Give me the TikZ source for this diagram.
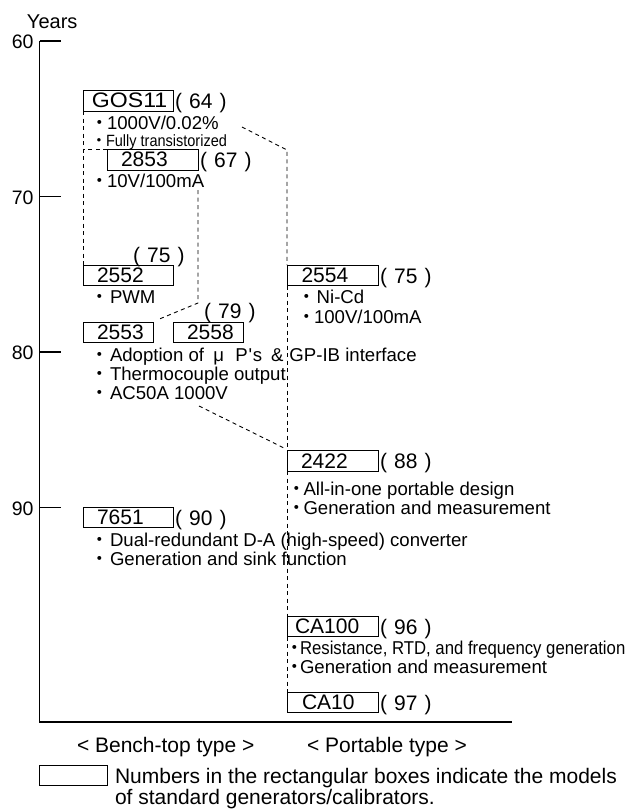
\documentclass[tikz,border=0pt]{standalone}
\usepackage{fontspec}
\setmainfont{Liberation Sans}
\newfontfamily\cjkfont{Noto Sans CJK JP}
\usepackage{graphicx}
\newcommand\bu[1]{\makebox[#1pt][c]{\cjkfont ・}}
\newcommand\yl[1]{(\hspace{0.34em}#1\hspace{0.34em})}
\begin{document}
\begin{tikzpicture}[x=1pt,y=-1pt,
  every node/.style={inner sep=0pt, outer sep=0pt},
  desc/.style={anchor=base west, font=\fontsize{18.6}{20}\selectfont},
  yrs/.style={anchor=base west, font=\fontsize{21}{22}\selectfont},
  axl/.style={anchor=base east, font=\fontsize{19.5}{22}\selectfont},
  mbox/.style={draw, line width=1pt, anchor=north west, minimum height=20.5pt, font=\fontsize{21}{22}\selectfont},
  dsh/.style={line width=0.9pt, dash pattern=on 4pt off 3.5pt},
  axisline/.style={line width=1.1pt},
  legtext/.style={anchor=base west, font=\fontsize{21}{22}\selectfont},
]
\useasboundingbox (0,0) rectangle (630,812);

% axis
\node[anchor=base west, font=\fontsize{20}{22}\selectfont] (years) at (27,28) {Years};
\coordinate (atop) at (39.5,41);
\coordinate (acorner) at (39.5,722);
\coordinate (aright) at (512,722);
\draw[axisline] (atop) -- (acorner) -- (aright);
\foreach \yy/\ll in {41/60,196.5/70,352/80,507.5/90}{
  \coordinate (k\ll) at (39.5,\yy);
  \draw[axisline] (k\ll) -- ++(21.5,0);
  \node[axl] (t\ll) at (33.5,{\yy+7.5}) {\ll};
}

% boxes
\node[mbox] (gos)   at (83,90.5)  {\makebox[90pt][l]{\hspace*{9pt}\scalebox{1.1}[1]{GOS11}}};
\node[mbox] (b2853) at (107,149.5){\makebox[91pt][l]{\hspace*{14pt}2853}};
\node[mbox] (b2552) at (83,265)   {\makebox[90pt][l]{\hspace*{14pt}2552}};
\node[mbox] (b2554) at (287,265)  {\makebox[91pt][l]{\hspace*{14.5pt}2554}};
\node[mbox] (b2553) at (83,322)   {\makebox[70pt][l]{\hspace*{14pt}2553}};
\node[mbox] (b2558) at (173,322)  {\makebox[70pt][l]{\hspace*{14pt}2558}};
\node[mbox] (b2422) at (287,450.5){\makebox[91pt][l]{\hspace*{14pt}2422}};
\node[mbox] (b7651) at (83,507)   {\makebox[90pt][l]{\hspace*{14pt}7651}};
\node[mbox] (ca100) at (287,616)  {\makebox[91pt][l]{\hspace*{8pt}CA100}};
\node[mbox] (ca10)  at (287,692)  {\makebox[91pt][l]{\hspace*{15pt}CA10}};

% years
\node[yrs] (y64) at ([xshift=2pt,yshift=2.5pt]gos.south east) {\yl{64}};
\node[yrs] (y67) at ([xshift=2pt,yshift=2.5pt]b2853.south east) {\yl{67}};
\node[yrs] (y75a) at (133,262) {\yl{75}};
\node[yrs] (y75b) at ([xshift=2pt,yshift=2.5pt]b2554.south east) {\yl{75}};
\node[yrs] (y79) at (204,318) {\yl{79}};
\node[yrs] (y88) at ([xshift=2pt,yshift=2.5pt]b2422.south east) {\yl{88}};
\node[yrs] (y90) at ([xshift=2pt,yshift=2.5pt]b7651.south east) {\yl{90}};
\node[yrs] (y96) at ([xshift=2pt,yshift=2.5pt]ca100.south east) {\yl{96}};
\node[yrs] (y97) at ([xshift=2pt,yshift=2.5pt]ca10.south east) {\yl{97}};

% descriptions
\node[desc] (d1a) at (93,129) {\bu{14}1000V/0.02\%};
\node[desc, font=\fontsize{16.3}{18}\selectfont] (d1b) at (92,146.5) {\bu{14}\scalebox{0.89}[1]{Fully transistorized}};
\node[desc] (d2a) at (93,187) {\bu{14}10V/100mA};
\node[desc] (d3a) at (90,303) {\bu{20}PWM};
\node[desc] (d4a) at (296.7,303) {\bu{20}Ni-Cd};
\node[desc] (d4b) at (299.4,323) {\bu{14.6}100V/100mA};
\node[desc] (d5a) at (90,361) {\bu{20}Adoption of\hspace{9.3pt}\makebox[15pt][l]{μ}\hspace{7pt}P\makebox[5pt][c]{\textquotesingle}s\hspace{9pt}\&\hspace{6pt}GP-IB interface};
\node[desc] (d5b) at (90,380) {\bu{20}Thermocouple output};
\node[desc] (d5c) at (90,399.5) {\bu{20}AC50A 1000V};
\node[desc] (d6a) at (290.5,495) {\bu{13}All-in-one portable design};
\node[desc] (d6b) at (290.5,514) {\bu{13}Generation and measurement};
\node[desc] (d7a) at (90,546.7) {\bu{20}Dual-redundant D-A (high-speed) converter};
\node[desc] (d7b) at (90,565) {\bu{20}Generation and sink function};
\node[desc] (d8a) at (290,654) {\bu{10}\scalebox{0.9}[1]{Resistance, RTD, and frequency generation}};
\node[desc] (d8b) at (290,673) {\bu{10}Generation and measurement};

% dashed connectors
\draw[dsh] (gos.south west) -- (b2552.north west);
\draw[dsh] (b2853.north west) -- (b2853.north west -| gos.west);
\coordinate (p1) at (198,190);
\coordinate (p2) at (198,303);
\draw[dsh] (p1) -- (p2) -- ([xshift=4pt,yshift=2pt]b2553.north east);
\coordinate (q1) at (242,127);
\coordinate (q2) at (287,150);
\draw[dsh] (q1) -- (q2) -- (b2554.north west);
\draw[dsh] (b2554.south west) -- (b2422.north west);
\coordinate (r1) at (199,406);
\draw[dsh] (r1) -- ([xshift=-2pt,yshift=2pt]b2422.north west);
\draw[dsh] (b2422.south west) -- (ca100.north west);
\draw[dsh] (ca100.south west) -- (ca10.north west);

% legend
\node[legtext] (bench) at (77,752) {< Bench-top type >};
\node[legtext] (port) at (307,752) {< Portable type >};
\node[draw, line width=1pt, anchor=north west, minimum width=68pt, minimum height=20pt] (legbox) at (39,765) {};
\node[legtext] (legtxt) at (115,783) {Numbers in the rectangular boxes indicate the models};
\node[legtext] (legtxt2) at (115,804) {of standard generators/calibrators.};
\end{tikzpicture}
\end{document}
